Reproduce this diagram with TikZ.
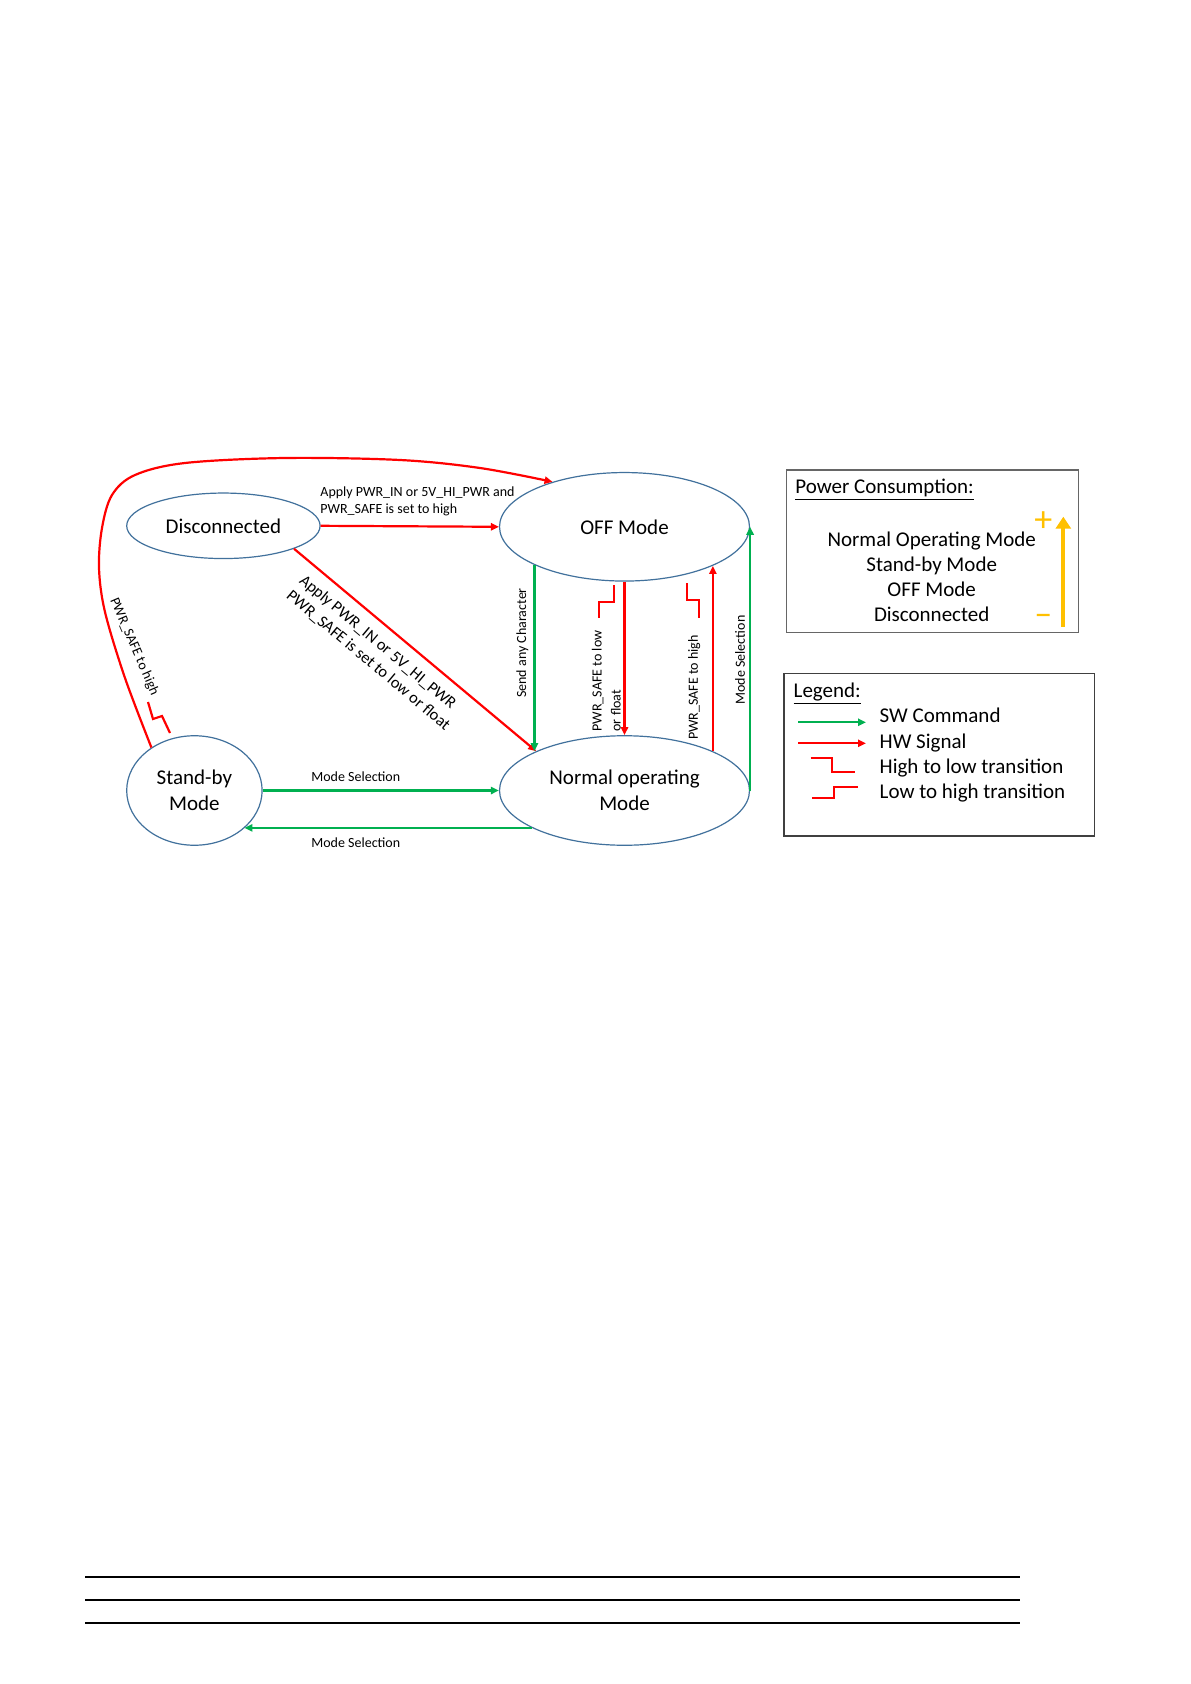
\documentclass[tikz,border=0pt]{standalone}
\usepackage{fontspec}
\setmainfont{Carlito}
\usetikzlibrary{shapes.geometric,arrows.meta}
\definecolor{rd}{HTML}{FF0000}
\definecolor{gr}{HTML}{00B050}
\definecolor{bl}{HTML}{41719C}
\definecolor{gd}{HTML}{FFC000}
\begin{document}
\begin{tikzpicture}[x=0.5pt,y=-0.5pt,
  state/.style={ellipse, draw=bl, line width=0.6pt, inner sep=0pt, font=\fontsize{10.5}{12.9}\selectfont, align=center},
  tip/.style={-{Triangle[length=4pt,width=3.6pt]}},
  hw/.style={draw=rd, line width=1.1pt, tip},
  sw/.style={draw=gr, line width=1.1pt, tip},
  lbl/.style={font=\fontsize{7}{8.5}\selectfont, inner sep=0pt},
  stepsym/.style={draw=rd, line width=1.1pt},
  boxtext/.style={font=\fontsize{10.5}{12.9}\selectfont, inner sep=0pt},
  frame/.style={draw=black!60, line width=0.6pt, inner sep=0pt},
]
\fill[white] (0,0) rectangle (1190,1684);
\useasboundingbox (0,0) rectangle (1190,1684);

% states
\node[state, minimum width=96.7pt, minimum height=32.75pt] (disc) at (223.4,525.8) {Disconnected};
\node[state, minimum width=125pt, minimum height=54.25pt] (off) at (624.5,526.8) {OFF Mode};
\node[state, minimum width=67.7pt, minimum height=54.75pt] (stby) at (194.4,790.5) {Stand-by\\Mode};
\node[state, minimum width=125pt, minimum height=54.75pt] (norm) at (624.5,790.5) {Normal operating\\Mode};

% Disconnected -> OFF
\draw[hw] (disc.east) -- (off.west);
\node[lbl, anchor=west, align=left] (l1) at (320,501.5) {Apply PWR\_IN or 5V\_HI\_PWR and\\PWR\_SAFE is set to high};

% Disconnected -> Normal
\draw[hw] (disc.-18.6) -- (norm.156.4);
\node[font=\fontsize{8.2}{10}\selectfont, inner sep=0pt, rotate=-40, align=left] (l2) at (374.7,653) {Apply PWR\_IN or 5V\_HI\_PWR\\PWR\_SAFE is set to low or float};

% Stand-by -> OFF (big curve)
\draw[hw] plot[smooth, tension=0.55] coordinates {(stby.135) (125,678) (105,612) (99,568) (102,528) (112,495) (135,475) (185,463) (285,458) (400,460) (480,468) (off.148)};
\draw[stepsym] (148,702) -- (153,719) -- (162,716) -- (170,733);
\node[lbl, rotate=-66.7] (l3) at (134.2,646.7) {PWR\_SAFE to high};

% OFF -> Normal (send any character)
\draw[sw] (off.203.41) -- (off.203.41 |- norm.156.4);
\node[lbl, rotate=90] (l4) at (522.5,643) {Send any Character};

% OFF -> Normal (PWR_SAFE low)
\draw[hw] (off.south) -- (norm.north);
\node[lbl, font=\fontsize{7}{9.5}\selectfont, rotate=90, align=left] (l5) at (606.2,681) {PWR\_SAFE to low\\or float};
\draw[stepsym] (614.3,585) -- (614.3,601.7) -- (599.3,601.7) -- (599.3,618.3);

% Normal -> OFF (PWR_SAFE high)
\draw[hw] (norm.24.08) -- (norm.24.08 |- off.336.12);
\node[lbl, rotate=90] (l6) at (694.2,687.5) {PWR\_SAFE to high};
\draw[stepsym] (687.3,583.3) -- (687.3,600) -- (699.3,600) -- (699.3,618.3);

% Normal -> OFF (mode selection)
\draw[sw] (norm.east) -- (off.east);
\node[lbl, rotate=90] (l7) at (740,660) {Mode Selection};

% Stand-by <-> Normal
\draw[sw] (stby.east) -- (norm.west);
\node[lbl] (l8) at (355.8,776.7) {Mode Selection};
\draw[sw] (norm.202.4) -- (norm.202.4 -| stby.-37.3);
\node[lbl] (l9) at (355.8,842.7) {Mode Selection};

% Power consumption box
\node[frame, minimum width=145.8pt, minimum height=81.35pt] (pbox) at (932.5,551.35) {};
\node[boxtext, anchor=base west] (ptitle) at (795,493.3) {\underline{Power Consumption:}};
\node[boxtext, anchor=base] (p1) at (931.7,546) {Normal Operating Mode};
\node[boxtext, anchor=base] (p2) at (931.7,571) {Stand-by Mode};
\node[boxtext, anchor=base] (p3) at (931.7,596) {OFF Mode};
\node[boxtext, anchor=base] (p4) at (931.7,621) {Disconnected};
\node[text=gd, font=\fontsize{18}{18}\selectfont, inner sep=0pt] (plus) at (1043.3,521.7) {+};
\node[text=gd, font=\fontsize{18}{18}\selectfont, inner sep=0pt] (minus) at (1043.3,620) {\textendash};
\coordinate (pa1) at (1063.3,626.7);
\coordinate (pa2) at (1063.3,516.7);
\draw[gd, line width=2pt, -{Triangle[length=6pt,width=7.5pt]}] (pa1) -- (pa2);

% Legend box
\node[frame, draw=black!75, minimum width=155.15pt, minimum height=81.35pt] (lbox) at (939.15,754.65) {};
\node[boxtext, anchor=base west] (ltitle) at (793.3,697) {\underline{Legend:}};
\coordinate (g1) at (798.3,722.3);
\coordinate (g2) at (866,722.3);
\draw[sw] (g1) -- (g2);
\coordinate (r1) at (798.3,743.3);
\coordinate (r2) at (866,743.3);
\draw[hw] (r1) -- (r2);
\draw[stepsym] (810.7,758.3) -- (832.3,758.3) -- (832.3,772.3) -- (855,772.3);
\draw[stepsym] (812.3,797.7) -- (834,797.7) -- (834,786.7) -- (857.7,786.7);
\node[boxtext, anchor=base west] (t1) at (879.3,722.3) {SW Command};
\node[boxtext, anchor=base west] (t2) at (879.3,748.3) {HW Signal};
\node[boxtext, anchor=base west] (t3) at (879.3,773.3) {High to low transition};
\node[boxtext, anchor=base west] (t4) at (879.3,798.3) {Low to high transition};

% footer lines
\draw[line width=0.8pt] (85,1577) -- (1020,1577);
\draw[line width=0.8pt] (85,1600) -- (1020,1600);
\draw[line width=0.8pt] (85,1623) -- (1020,1623);
\end{tikzpicture}
\end{document}
